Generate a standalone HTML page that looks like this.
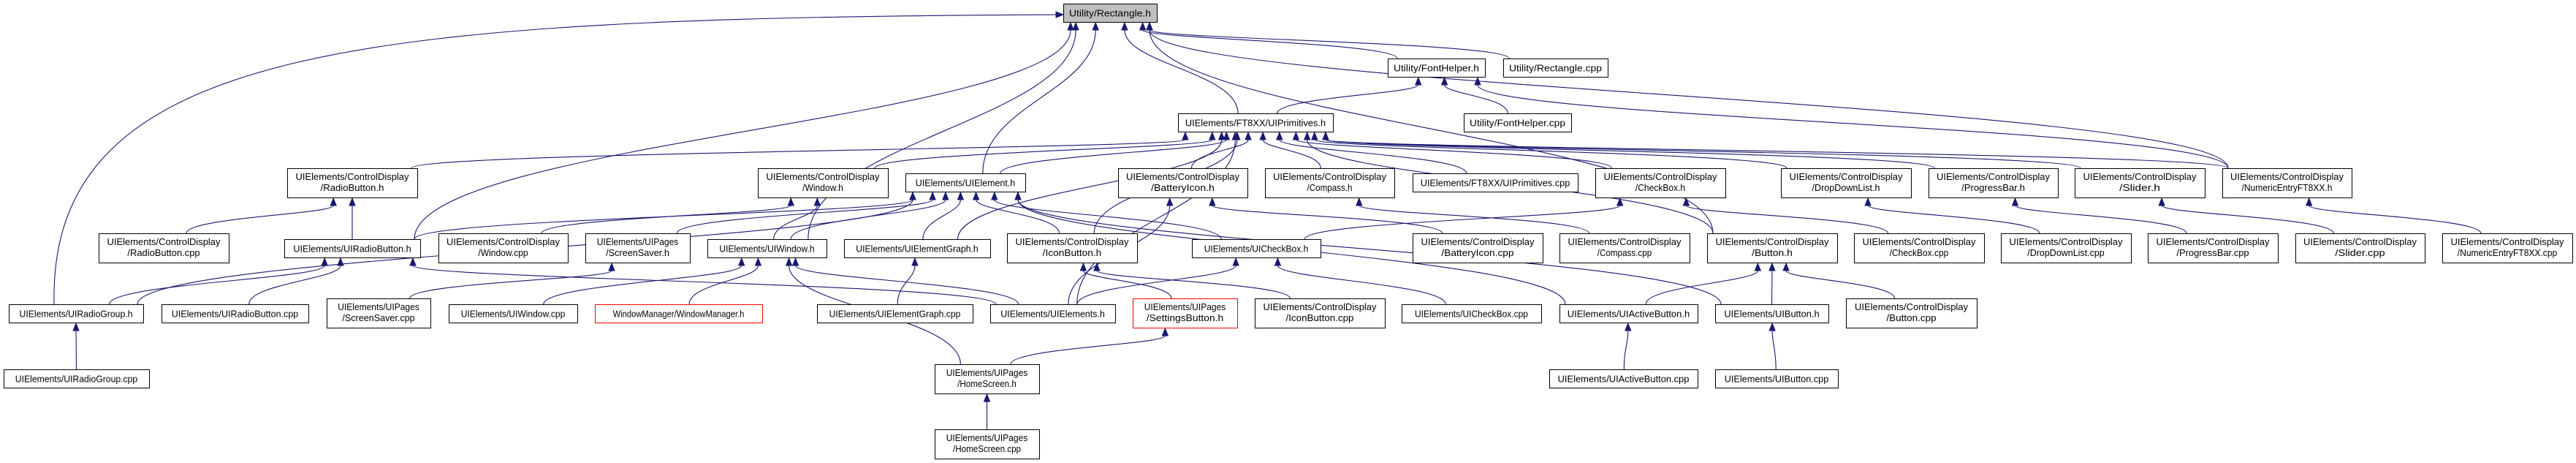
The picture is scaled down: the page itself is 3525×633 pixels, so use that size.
<!DOCTYPE html>
<html><head><meta charset="utf-8"><style>
html,body{margin:0;padding:0;background:#fff;}
svg{display:block;}
text{font-family:"Liberation Sans Narrow","Liberation Sans",sans-serif;font-size:13px;fill:#000;}
</style></head><body>
<svg id="g" width="3525" height="633" viewBox="0 0 3525 633" xmlns="http://www.w3.org/2000/svg"></svg>
<script>
const nodeIds=["rect","fonth","rectcpp","prim","fontcpp","primcpp","cdradio","cdwin","uiel","cdbat","cdcomp","cdcheck","cddrop","cdprog","cdslider","cdnum",
"radiocpp","uiradio","wincpp","ssh","uiwin","uigraph","cdicon","uicheck","batcpp","compcpp","cdbutton","checkcpp","dropcpp","progcpp","slidercpp","numcpp",
"radiogrp","uiradiocpp","sscpp","uiwincpp","winmgr","uigraphcpp","uiels","settings","iconcpp","uicheckcpp","uiactive","uibutton","buttoncpp",
"radiogrpcpp","home","activecpp","uibuttoncpp","homecpp"];
const nodeLabels=[["Utility/Rectangle.h"],["Utility/FontHelper.h"],["Utility/Rectangle.cpp"],["UIElements/FT8XX/UIPrimitives.h"],["Utility/FontHelper.cpp"],["UIElements/FT8XX/UIPrimitives.cpp"],
["UIElements/ControlDisplay","/RadioButton.h"],["UIElements/ControlDisplay","/Window.h"],["UIElements/UIElement.h"],["UIElements/ControlDisplay","/BatteryIcon.h"],["UIElements/ControlDisplay","/Compass.h"],["UIElements/ControlDisplay","/CheckBox.h"],["UIElements/ControlDisplay","/DropDownList.h"],["UIElements/ControlDisplay","/ProgressBar.h"],["UIElements/ControlDisplay","/Slider.h"],["UIElements/ControlDisplay","/NumericEntryFT8XX.h"],
["UIElements/ControlDisplay","/RadioButton.cpp"],["UIElements/UIRadioButton.h"],["UIElements/ControlDisplay","/Window.cpp"],["UIElements/UIPages","/ScreenSaver.h"],["UIElements/UIWindow.h"],["UIElements/UIElementGraph.h"],["UIElements/ControlDisplay","/IconButton.h"],["UIElements/UICheckBox.h"],["UIElements/ControlDisplay","/BatteryIcon.cpp"],["UIElements/ControlDisplay","/Compass.cpp"],["UIElements/ControlDisplay","/Button.h"],["UIElements/ControlDisplay","/CheckBox.cpp"],["UIElements/ControlDisplay","/DropDownList.cpp"],["UIElements/ControlDisplay","/ProgressBar.cpp"],["UIElements/ControlDisplay","/Slider.cpp"],["UIElements/ControlDisplay","/NumericEntryFT8XX.cpp"],
["UIElements/UIRadioGroup.h"],["UIElements/UIRadioButton.cpp"],["UIElements/UIPages","/ScreenSaver.cpp"],["UIElements/UIWindow.cpp"],["WindowManager/WindowManager.h"],["UIElements/UIElementGraph.cpp"],["UIElements/UIElements.h"],["UIElements/UIPages","/SettingsButton.h"],["UIElements/ControlDisplay","/IconButton.cpp"],["UIElements/UICheckBox.cpp"],["UIElements/UIActiveButton.h"],["UIElements/UIButton.h"],["UIElements/ControlDisplay","/Button.cpp"],
["UIElements/UIRadioGroup.cpp"],["UIElements/UIPages","/HomeScreen.h"],["UIElements/UIActiveButton.cpp"],["UIElements/UIButton.cpp"],["UIElements/UIPages","/HomeScreen.cpp"]];
const nodeX=[1455,1899,2057,1612,2003,1933,393,1037,1239,1530,1731,2183,2437,2639,2839,3041,
135,389,600,801,968,1155,1378,1631,1933,2134,2336,2537,2738,2939,3141,3342,
12,221,447,614,814,1118,1355,1550,1717,1918,2134,2347,2526,
5,1279,2120,2347,1279];
const nodeY=[5,80,80,155,155,237,230,230,237,230,230,230,230,230,230,230,
319,327,319,319,327,327,319,327,319,319,319,319,319,319,319,319,
416,416,408,416,416,416,416,408,408,416,416,416,408,
505,498,505,505,587];
const nodeW=[128,133,143,212,147,226,178,178,164,177,177,178,178,177,178,177,
178,186,177,143,163,200,178,176,178,178,178,178,178,178,177,178,
184,201,142,176,229,213,171,143,178,191,189,155,179,
199,143,203,168,143];
const edgeFrom=["radiogrp","uiradio","uiwin","uiel","prim","fonth","rectcpp","cdbutton","cdnum",
"prim","fontcpp","cdnum",
"cdradio","cdwin","uiel","cdbat","cdcomp","primcpp","cdcheck","cddrop","cdprog","cdslider","cdnum","cdicon","uigraph","cdbutton","uiels",
"radiocpp","uiradio","wincpp","uiwin",
"radiogrp","uiradio","ssh","uiwin","uigraph","cdicon","uicheck","uiactive","uibutton",
"batcpp","uiels","compcpp","checkcpp","uicheck","dropcpp","progcpp","slidercpp","numcpp",
"radiogrp","uiradiocpp","uiels","sscpp","uiwincpp","winmgr","uiels","home","uigraphcpp","settings","iconcpp","uiels","uicheckcpp",
"uiactive","uibutton","buttoncpp","home","homecpp","activecpp","uibuttoncpp","radiogrpcpp"];
const edgeTo=["rect","rect","rect","rect","rect","rect","rect","rect","rect",
"fonth","fonth","fonth",
"prim","prim","prim","prim","prim","prim","prim","prim","prim","prim","prim","prim","prim","prim","prim",
"cdradio","cdradio","cdwin","cdwin",
"uiel","uiel","uiel","uiel","uiel","uiel","uiel","uiel","uiel",
"cdbat","cdbat","cdcomp","cdcheck","cdcheck","cddrop","cdprog","cdslider","cdnum",
"uiradio","uiradio","uiradio","ssh","uiwin","uiwin","uiwin","uiwin","uigraph","cdicon","cdicon","uicheck","uicheck",
"cdbutton","cdbutton","cdbutton","settings","home","uiactive","uibutton","radiogrp"];

const NS="http://www.w3.org/2000/svg";
const svg=document.getElementById('g');
const EC="#191970";
function mk(t,a,p){const e=document.createElementNS(NS,t);for(const k in a)e.setAttribute(k,a[k]);(p||svg).appendChild(e);return e;}
function idx(id){return nodeIds.indexOf(id);}
function nh(i){return nodeLabels[i].length>1?40:25;}
const edgeLayer=mk('g',{});


for(let k=0;k<edgeFrom.length;k++){
  const s=idx(edgeFrom[k]),t=idx(edgeTo[k]);
  const scx=nodeX[s]+nodeW[s]/2,tcx=nodeX[t]+nodeW[t]/2;
  let sx=scx+(tcx-scx)*0.12; sx=Math.max(nodeX[s]+8,Math.min(nodeX[s]+nodeW[s]-8,sx));
  let tx=tcx+(scx-tcx)*0.1; tx=Math.max(nodeX[t]+10,Math.min(nodeX[t]+nodeW[t]-10,tx));
  let sy=nodeY[s], ey=nodeY[t]+nh(t)+1;
  const dy=sy-ey;
  let c1x=sx,c1y=sy-dy*0.45,c2x=tx,c2y=ey+dy*0.45;
  if(edgeFrom[k]==="radiogrp"&&edgeTo[k]==="rect"){
    sx=nodeX[s]+62;c1x=66;c1y=60;c2x=500;c2y=25;tx=nodeX[t];ey=nodeY[t]+15;
  }
  let dx=tx-c2x,dyy=ey-c2y;const L=Math.hypot(dx,dyy)||1;dx/=L;dyy/=L;
  const al=10,aw=4;
  const bx=tx-dx*al,by=ey-dyy*al;
  const p=mk('path',{d:`M${sx},${sy} C${c1x},${c1y} ${c2x},${c2y} ${bx},${by}`,fill:'none',stroke:EC,'stroke-width':1.1},edgeLayer);
  
  
  const a=mk('polygon',{points:`${tx},${ey} ${bx-dyy*aw},${by+dx*aw} ${bx+dyy*aw},${by-dx*aw}`,fill:EC,stroke:EC},edgeLayer);
  
  
}
for(let i=0;i<nodeIds.length;i++){
  const g=mk('g',{});
  
  
  const h=nh(i),red=(nodeIds[i]==="winmgr"||nodeIds[i]==="settings");
  mk('rect',{x:nodeX[i]+0.5,y:nodeY[i]+0.5,width:nodeW[i],height:h,fill:i===0?'#bfbfbf':'#fff',stroke:red?'#ff0000':'#000','stroke-width':1},g);
  const L=nodeLabels[i];
  L.forEach((s,j)=>{
    const y=L.length>1?nodeY[i]+16+j*15:nodeY[i]+17.5;
    const tl=Math.min(s.length*6.2,nodeW[i]-16);
    const t=mk('text',{x:nodeX[i]+nodeW[i]/2,y:y,'text-anchor':'middle',textLength:tl,lengthAdjust:'spacingAndGlyphs'},g);
    t.textContent=s;
  });
}
</script>
</body></html>
